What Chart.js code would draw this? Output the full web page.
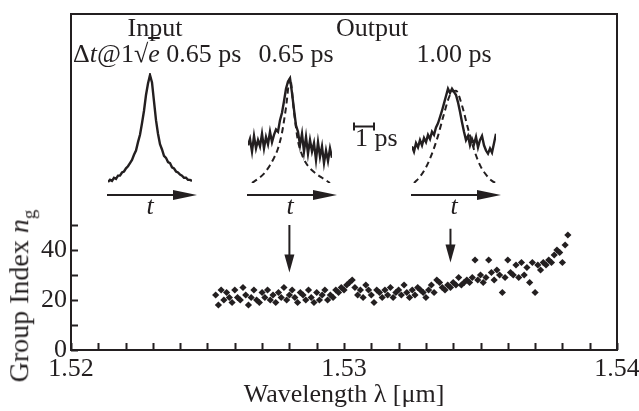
<!DOCTYPE html>
<html>
<head>
<meta charset="utf-8">
<title>Group index vs wavelength</title>
<script src="https://cdn.jsdelivr.net/npm/chart.js@4.4.1/dist/chart.umd.min.js"></script>
<style>
  html, body { margin: 0; padding: 0; background: #fff; }
  #wrap { position: relative; width: 639px; height: 411px; overflow: hidden;
          font-family: 'Liberation Serif', 'Times New Roman', serif; color: #231f20; }
  #wrap canvas { position: absolute; }
  .lbl { position: absolute; font-size: 26px; line-height: 26px; white-space: nowrap; }
  .mid { transform: translateX(-50%); }
  .over { text-decoration: overline; }
  #ytitle { position: absolute; left: 24px; top: 296px; font-size: 28px; line-height: 28px;
            white-space: nowrap; transform: translate(-50%, -50%) rotate(-90deg); }
  #ytitle sub { font-size: 19px; }
</style>
</head>
<body>
<div id="wrap">
  <canvas id="main" width="639" height="411" style="left:0;top:0"></canvas>
  <canvas id="insetIn" width="150" height="152" style="left:88px;top:71px"></canvas>
  <canvas id="insetA" width="150" height="152" style="left:228px;top:71px"></canvas>
  <canvas id="insetB" width="150" height="152" style="left:392px;top:71px"></canvas>

  <div class="lbl mid" style="left:155px;top:15px">Input</div>
  <div class="lbl mid" style="left:372px;top:15px">Output</div>
  <div class="lbl" style="left:73px;top:41px">Δ<i>t</i>@1√<i class="over">e</i> 0.65 ps</div>
  <div class="lbl mid" style="left:296px;top:41px">0.65 ps</div>
  <div class="lbl mid" style="left:454px;top:41px">1.00 ps</div>
  <div class="lbl" style="left:355px;top:125px">1 ps</div>
  <div class="lbl mid" style="left:150px;top:193px"><i>t</i></div>
  <div class="lbl mid" style="left:290px;top:193px"><i>t</i></div>
  <div class="lbl mid" style="left:454px;top:193px"><i>t</i></div>
  <div id="ytitle">Group Index <i>n</i><sub>g</sub></div>
</div>

<script>
// Measured group index (main plot)
const wavelength = [
  1.5253, 1.5254, 1.5255, 1.5256, 1.5257, 1.5258, 1.5259, 1.5260, 1.5261, 1.5262,
  1.5263, 1.5264, 1.5265, 1.5266, 1.5267, 1.5268, 1.5269, 1.5270, 1.5271, 1.5272,
  1.5273, 1.5274, 1.5275, 1.5276, 1.5277, 1.5278, 1.5279, 1.5280, 1.5281, 1.5282,
  1.5283, 1.5284, 1.5285, 1.5286, 1.5287, 1.5288, 1.5289, 1.5290, 1.5291, 1.5292,
  1.5293, 1.5294, 1.5295, 1.5296, 1.5297, 1.5298, 1.5299, 1.5300, 1.5301, 1.5302,
  1.5303, 1.5304, 1.5305, 1.5306, 1.5307, 1.5308, 1.5309, 1.5310, 1.5311, 1.5312,
  1.5313, 1.5314, 1.5315, 1.5316, 1.5317, 1.5318, 1.5319, 1.5320, 1.5321, 1.5322,
  1.5323, 1.5324, 1.5325, 1.5326, 1.5327, 1.5328, 1.5329, 1.5330, 1.5331, 1.5332,
  1.5333, 1.5334, 1.5335, 1.5336, 1.5337, 1.5338, 1.5339, 1.5340, 1.5341, 1.5342,
  1.5343, 1.5344, 1.5345, 1.5346, 1.5347, 1.5348, 1.5349, 1.5350, 1.5351, 1.5352,
  1.5353, 1.5354, 1.5355, 1.5356, 1.5357, 1.5358, 1.5359, 1.5360, 1.5361, 1.5362,
  1.5363, 1.5364, 1.5365, 1.5366, 1.5367, 1.5368, 1.5369, 1.5370, 1.5371, 1.5372,
  1.5373, 1.5374, 1.5375, 1.5376, 1.5377, 1.5378, 1.5379, 1.5380, 1.5381, 1.5382
];
const groupIndex = [
  22, 18, 24, 20, 23, 21, 19, 24, 21, 20,
  25, 22, 18, 21, 24, 20, 19, 23, 21, 24,
  20, 22, 19, 23, 21, 25, 20, 22, 24, 21,
  19, 23, 22, 20, 24, 21, 19, 23, 20, 22,
  24, 20, 22, 21, 24, 23, 25, 24, 26, 27,
  28, 25, 22, 24, 21, 26, 24, 22, 19, 24,
  23, 21, 24, 22, 25, 21, 23, 24, 22, 26,
  23, 21, 24, 22, 25, 24, 23, 21, 24, 26,
  23, 28, 27, 25, 24, 26, 25, 27, 26, 29,
  26, 27, 28, 27, 29, 36, 28, 30, 27, 29,
  36, 31, 28, 32, 30, 23, 29, 36, 31, 30,
  34, 29, 35, 30, 33, 27, 35, 23, 34, 32,
  35, 34, 36, 35, 38, 40, 39, 35, 42, 46
];

// Axes
const xRange = [1.52, 1.54];
const yRange = [0, 134.4];
const yTickValues = [0, 10, 20, 30, 40, 50];

// Down arrows marking the two measured wavelengths
const arrowLambda = [1.5280, 1.5339];
const arrowTop = [50, 48.5];
const arrowTip = [31, 35];

// Pulse insets (time in ps, normalised intensity)
const pulseTime = [
  -2.1, -2.0, -1.9, -1.8, -1.7, -1.6, -1.5, -1.4, -1.3, -1.2, -1.1,
  -1.0, -0.9, -0.8, -0.7, -0.6, -0.5, -0.4, -0.3, -0.2, -0.1,
  0.0, 0.1, 0.2, 0.3, 0.4, 0.5, 0.6, 0.7, 0.8, 0.9, 1.0,
  1.1, 1.2, 1.3, 1.4, 1.5, 1.6, 1.7, 1.8, 1.9, 2.0, 2.1
];
const inputPulse = [
  0.01, 0.03, 0.02, 0.05, 0.04, 0.07, 0.07, 0.10, 0.11, 0.14, 0.16,
  0.19, 0.22, 0.27, 0.31, 0.39, 0.46, 0.57, 0.69, 0.84, 0.95,
  1.03, 0.96, 0.78, 0.60, 0.47, 0.37, 0.32, 0.26, 0.24, 0.20, 0.19,
  0.15, 0.14, 0.11, 0.10, 0.08, 0.07, 0.05, 0.05, 0.03, 0.03, 0.02
];
const outputPulseA = [
  0.36, 0.42, 0.30, 0.45, 0.33, 0.41, 0.35, 0.47, 0.33, 0.44, 0.37,
  0.49, 0.39, 0.46, 0.51, 0.49, 0.60, 0.67, 0.78, 0.90, 0.97,
  1.00, 0.86, 0.70, 0.55, 0.49, 0.36, 0.47, 0.30, 0.44, 0.28, 0.41,
  0.30, 0.38, 0.22, 0.39, 0.25, 0.35, 0.19, 0.31, 0.21, 0.33, 0.24
];
const outputPulseB = [
  0.35, 0.30, 0.38, 0.34, 0.41, 0.36, 0.43, 0.39, 0.46, 0.42, 0.49,
  0.46, 0.53, 0.57, 0.63, 0.69, 0.76, 0.83, 0.90, 0.86, 0.90,
  0.87, 0.84, 0.77, 0.68, 0.58, 0.49, 0.41, 0.45, 0.36, 0.42, 0.37,
  0.44, 0.34, 0.41, 0.45, 0.36, 0.31, 0.28, 0.33, 0.29, 0.38, 0.47
];
const refTimeA = [-1.9, -1.6, -1.3, -1.0, -0.8, -0.6, -0.4, -0.2, 0.0, 0.2, 0.4, 0.6, 0.8, 1.0, 1.3, 1.6, 2.0];
const refPulseA = [0.0, 0.04, 0.09, 0.17, 0.24, 0.33, 0.48, 0.72, 1.0, 0.68, 0.40, 0.27, 0.19, 0.14, 0.09, 0.05, 0.0];
const refTimeB = [-2.0, -1.7, -1.4, -1.1, -0.8, -0.5, -0.2, 0.1, 0.4, 0.7, 1.0, 1.3, 1.6, 1.9, 2.1];
const refPulseB = [0.0, 0.06, 0.15, 0.28, 0.45, 0.66, 0.84, 0.88, 0.74, 0.52, 0.32, 0.17, 0.08, 0.02, 0.0];

// 1 ps scale bar next to the middle inset
const scaleBarStart = 3.2;
const scaleBarLength = 1;
const scaleBarLevel = 0.54;

const INK = '#231f20';
Chart.defaults.font.family = "'Liberation Serif', 'Times New Roman', serif";
Chart.defaults.color = INK;

// Box frame, inward ticks and the down arrows
const framePlugin = {
  id: 'framePlugin',
  afterDraw(chart) {
    const { ctx, chartArea: a, scales: { x, y } } = chart;
    ctx.save();
    ctx.strokeStyle = INK;
    ctx.fillStyle = INK;
    ctx.lineWidth = 2;
    ctx.strokeRect(a.left, a.top, a.right - a.left, a.bottom - a.top);

    ctx.beginPath();
    x.ticks.forEach(t => {
      const px = Math.round(x.getPixelForValue(t.value)) + 0.5;
      ctx.moveTo(px, a.bottom);
      ctx.lineTo(px, a.bottom - 7);
    });
    y.ticks.forEach(t => {
      const py = Math.round(y.getPixelForValue(t.value)) + 0.5;
      ctx.moveTo(a.left, py);
      ctx.lineTo(a.left + 7, py);
    });
    ctx.stroke();

    arrowLambda.forEach((lam, i) => {
      const px = x.getPixelForValue(lam);
      const top = y.getPixelForValue(arrowTop[i]);
      const tip = y.getPixelForValue(arrowTip[i]);
      ctx.beginPath();
      ctx.moveTo(px, top);
      ctx.lineTo(px, tip - 14);
      ctx.stroke();
      ctx.beginPath();
      ctx.moveTo(px - 5, tip - 18);
      ctx.lineTo(px + 5, tip - 18);
      ctx.lineTo(px, tip);
      ctx.closePath();
      ctx.fill();
    });
    ctx.restore();
  }
};

new Chart(document.getElementById('main'), {
  type: 'scatter',
  data: {
    datasets: [{
      data: wavelength.map((w, i) => ({ x: w, y: groupIndex[i] })),
      pointStyle: 'rectRot',
      pointRadius: 3.6,
      backgroundColor: INK,
      borderWidth: 0
    }]
  },
  options: {
    responsive: false,
    animation: false,
    events: [],
    layout: { padding: { top: 14, right: 22, left: 0, bottom: 0 } },
    plugins: { legend: { display: false }, tooltip: { enabled: false } },
    scales: {
      x: {
        type: 'linear',
        min: xRange[0],
        max: xRange[1],
        grid: { display: false, drawTicks: false },
        border: { display: false },
        afterFit(scale) {
          scale.height = 61;
          scale.paddingLeft = 0;
          scale.paddingRight = 0;
        },
        ticks: {
          stepSize: 0.001,
          autoSkip: false,
          maxRotation: 0,
          padding: 4,
          font: { size: 26 },
          callback(value) {
            const m = Math.round(value * 1000);
            return m % 10 === 0 ? (m / 1000).toFixed(2) : '';
          }
        },
        title: {
          display: true,
          text: 'Wavelength λ [μm]',
          font: { size: 26 },
          padding: { top: 0, bottom: 0 }
        }
      },
      y: {
        min: yRange[0],
        max: yRange[1],
        grid: { display: false, drawTicks: false },
        border: { display: false },
        afterFit(scale) {
          scale.width = 71;
          scale.paddingTop = 0;
          scale.paddingBottom = 0;
        },
        afterBuildTicks(scale) {
          scale.ticks = yTickValues.map(v => ({ value: v }));
        },
        ticks: {
          padding: 4,
          font: { size: 26 },
          callback(value) { return value % 20 === 0 ? String(value) : ''; }
        }
      }
    }
  },
  plugins: [framePlugin]
});

// Time axis arrow under every inset
const timeArrow = {
  id: 'timeArrow',
  afterDraw(chart) {
    const { ctx, chartArea: a } = chart;
    const yy = a.bottom + 12;
    const end = a.right + 5;
    ctx.save();
    ctx.strokeStyle = INK;
    ctx.fillStyle = INK;
    ctx.lineWidth = 2.2;
    ctx.beginPath();
    ctx.moveTo(a.left - 1, yy);
    ctx.lineTo(end - 20, yy);
    ctx.stroke();
    ctx.beginPath();
    ctx.moveTo(end - 24, yy - 5);
    ctx.lineTo(end, yy);
    ctx.lineTo(end - 24, yy + 5);
    ctx.closePath();
    ctx.fill();
    ctx.restore();
  }
};

const scaleBar = {
  id: 'scaleBar',
  afterDraw(chart) {
    const { ctx, scales: { x, y } } = chart;
    const x0 = x.getPixelForValue(scaleBarStart);
    const x1 = x.getPixelForValue(scaleBarStart + scaleBarLength);
    const yy = Math.round(y.getPixelForValue(scaleBarLevel)) + 0.5;
    ctx.save();
    ctx.strokeStyle = INK;
    ctx.lineWidth = 2;
    ctx.beginPath();
    ctx.moveTo(x0, yy); ctx.lineTo(x1, yy);
    ctx.moveTo(x0, yy - 4); ctx.lineTo(x0, yy + 4);
    ctx.moveTo(x1, yy - 4); ctx.lineTo(x1, yy + 4);
    ctx.stroke();
    ctx.restore();
  }
};

function makeInset(id, solid, refTime, refPulse, extra) {
  const datasets = [{
    data: pulseTime.map((t, i) => ({ x: t, y: solid[i] })),
    borderColor: INK,
    borderWidth: 2.4,
    pointRadius: 0,
    tension: 0
  }];
  if (refTime) {
    datasets.push({
      data: refTime.map((t, i) => ({ x: t, y: refPulse[i] })),
      borderColor: INK,
      borderWidth: 2,
      borderDash: [6, 4],
      pointRadius: 0,
      cubicInterpolationMode: 'monotone'
    });
  }
  new Chart(document.getElementById(id), {
    type: 'line',
    data: { datasets },
    options: {
      responsive: false,
      animation: false,
      events: [],
      layout: { padding: { left: 20, right: 46, top: 2, bottom: 40 } },
      plugins: { legend: { display: false }, tooltip: { enabled: false } },
      scales: {
        x: { type: 'linear', display: false, min: -2.1, max: 2.1 },
        y: { display: false, min: 0, max: 1.05 }
      }
    },
    plugins: [timeArrow].concat(extra || [])
  });
}

makeInset('insetIn', inputPulse);
makeInset('insetA', outputPulseA, refTimeA, refPulseA, [scaleBar]);
makeInset('insetB', outputPulseB, refTimeB, refPulseB);
</script>
</body>
</html>
